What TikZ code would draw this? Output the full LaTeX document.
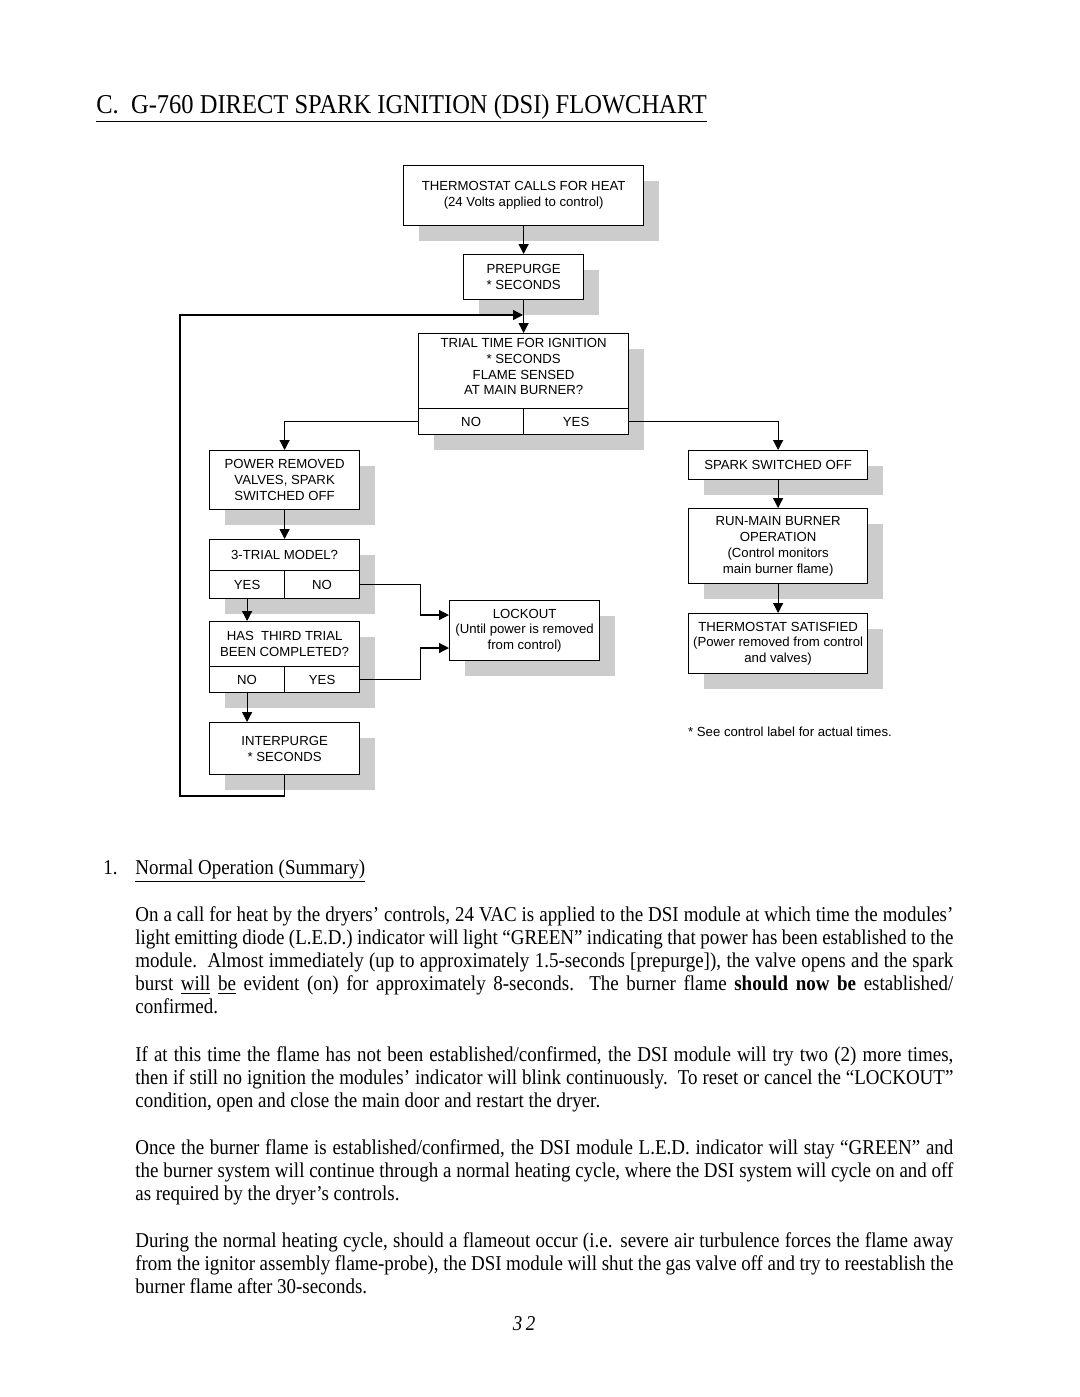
\documentclass[tikz,border=0pt]{standalone}
\usepackage{fontspec}
\setmainfont{Liberation Serif}[FakeStretch=0.9]
\newfontfamily\flowfont{Liberation Sans}
\usetikzlibrary{positioning, arrows.meta, shadows}

\tikzset{
    flowbox/.style={draw, fill=white, line width=0.7pt, inner sep=0pt, align=center,
        anchor=north west, font=\flowfont\fontsize{7.5}{9}\selectfont},
    sz/.style 2 args={minimum width=#1*0.2mm, minimum height=#2*0.2mm},
    shade/.style={drop shadow={shadow xshift=3mm, shadow yshift=-3mm, fill=black!20, opacity=1}},
    link/.style={line width=0.7pt},
    arr/.style={link, -{Triangle[length=2mm, width=2mm]}},
    body/.style={anchor=base west, inner sep=0pt, text width=163.6mm, align=justify,
        font=\fontsize{12}{13.2}\selectfont},
}

\begin{document}
\begin{tikzpicture}[x=0.2mm, y=-0.2mm]
    \path[use as bounding box, fill=white] (0,0) rectangle (1080,1397);

    % Title
    \node[anchor=base west, inner sep=0pt, font=\fontsize{15.5}{18}\selectfont] (title) at (96,113)
        {\underline{C.\ \ G-760 DIRECT SPARK IGNITION (DSI) FLOWCHART}};

    % Main column
    \node[flowbox, shade, sz={240}{60}] (therm) at (403,165) {THERMOSTAT CALLS FOR HEAT\\(24 Volts applied to control)};
    \node[flowbox, shade, sz={120}{45}] (prepurge) at (463,254) {PREPURGE\\* SECONDS};
    \node[flowbox, shade, sz={210}{75}, inner ysep=0.6mm, text depth=1.8mm] (trial) at (418,333) {TRIAL TIME FOR IGNITION\\* SECONDS\\FLAME SENSED\\AT MAIN BURNER?};
    \node[flowbox, shade, sz={105}{26}] (trialno) at (418,408) {NO};
    \node[flowbox, shade, sz={105}{26}] (trialyes) at (523,408) {YES};

    % Left column (no flame)
    \node[flowbox, shade, sz={150}{59}] (power) at (209,450) {POWER REMOVED\\VALVES, SPARK\\SWITCHED OFF};
    \node[flowbox, shade, sz={150}{31}] (model) at (209,539) {3-TRIAL MODEL?};
    \node[flowbox, shade, sz={75}{28}] (modelyes) at (209,570) {YES};
    \node[flowbox, shade, sz={75}{28}] (modelno) at (284,570) {NO};
    \node[flowbox, shade, sz={150}{45}] (third) at (209,621) {HAS\ \ THIRD TRIAL\\BEEN COMPLETED?};
    \node[flowbox, shade, sz={75}{26}] (thirdno) at (209,666) {NO};
    \node[flowbox, shade, sz={75}{26}] (thirdyes) at (284,666) {YES};
    \node[flowbox, shade, sz={150}{52}] (interpurge) at (209,722) {INTERPURGE\\* SECONDS};
    \node[flowbox, shade, sz={150}{60}] (lockout) at (449,600) {LOCKOUT\\(Until power is removed\\from control)};

    % Right column (flame sensed)
    \node[flowbox, shade, sz={179}{29}] (sparkoff) at (688,450) {SPARK SWITCHED OFF};
    \node[flowbox, shade, sz={179}{75}] (runmain) at (688,508) {RUN-MAIN BURNER\\OPERATION\\(Control monitors\\main burner flame)};
    \node[flowbox, shade, sz={179}{60}] (satisfied) at (688,613) {THERMOSTAT SATISFIED\\(Power removed from control\\and valves)};
    \node[font=\flowfont\fontsize{7.5}{9}\selectfont, inner sep=0pt] (note) at (790,732) {* See control label for actual times.};

    % Connectors
    \coordinate (loopjoin) at (523,315);
    \coordinate (loopbl) at (180,796);
    \coordinate (looptl) at (180,315);
    \coordinate (lockin1) at (449,615);
    \coordinate (lockin2) at (449,648);

    \draw[arr] (therm.south) -- (prepurge.north);
    \draw[arr] (prepurge.south) -- (trial.north);
    \draw[arr] (trialno.west) -| (power.north);
    \draw[arr] (trialyes.east) -| (sparkoff.north);
    \draw[arr] (power.south) -- (model.north);
    \draw[arr] (modelyes.south) -- (modelyes.south |- third.north);
    \draw[arr] (modelno.east) -- ++(60,0) |- (lockin1);
    \draw[arr] (thirdyes.east) -- ++(60,0) |- (lockin2);
    \draw[arr] (thirdno.south) -- (thirdno.south |- interpurge.north);
    \draw[arr] (interpurge.south) |- (loopbl) -- (looptl) -- (loopjoin);
    \draw[arr] (sparkoff.south) -- (runmain.north);
    \draw[arr] (runmain.south) -- (satisfied.north);

    % Text below the chart
    \node[anchor=base west, inner sep=0pt, font=\fontsize{12}{13.2}\selectfont] (item) at (103,874) {1.};
    \node[anchor=base west, inner sep=0pt, font=\fontsize{12}{13.2}\selectfont] (heading) at (135,874) {\underline{Normal Operation (Summary)}};

    \node[body] (para1) at (135,921) {On a call for heat by the dryers’ controls, 24 VAC is applied to the DSI module at which time the modules’\linebreak
        light emitting diode (L.E.D.) indicator will light “GREEN” indicating that power has been established to the\linebreak
        module.\ \ Almost immediately (up to approximately 1.5-seconds [prepurge]), the valve opens and the spark\linebreak
        burst \underline{will} \underline{be} evident (on) for approximately 8-seconds.\ \ The burner flame \textbf{should now be} established/\linebreak
        confirmed.};
    \node[body] (para2) at (135,1061) {If at this time the flame has not been established/confirmed, the DSI module will try two (2) more times,\linebreak
        then if still no ignition the modules’ indicator will blink continuously.\ \ To reset or cancel the “LOCKOUT”\linebreak
        condition, open and close the main door and restart the dryer.};
    \node[body] (para3) at (135,1154) {Once the burner flame is established/confirmed, the DSI module L.E.D. indicator will stay “GREEN” and\linebreak
        the burner system will continue through a normal heating cycle, where the DSI system will cycle on and off\linebreak
        as required by the dryer’s controls.};
    \node[body] (para4) at (135,1247) {During the normal heating cycle, should a flameout occur (i.e. severe air turbulence forces the flame away\linebreak
        from the ignitor assembly flame-probe), the DSI module will shut the gas valve off and try to reestablish the\linebreak
        burner flame after 30-seconds.};

    \node[anchor=base, inner sep=0pt, font=\fontsize{12}{13.2}\itshape] (pagenum) at (524,1330) {3\,2};
\end{tikzpicture}
\end{document}
